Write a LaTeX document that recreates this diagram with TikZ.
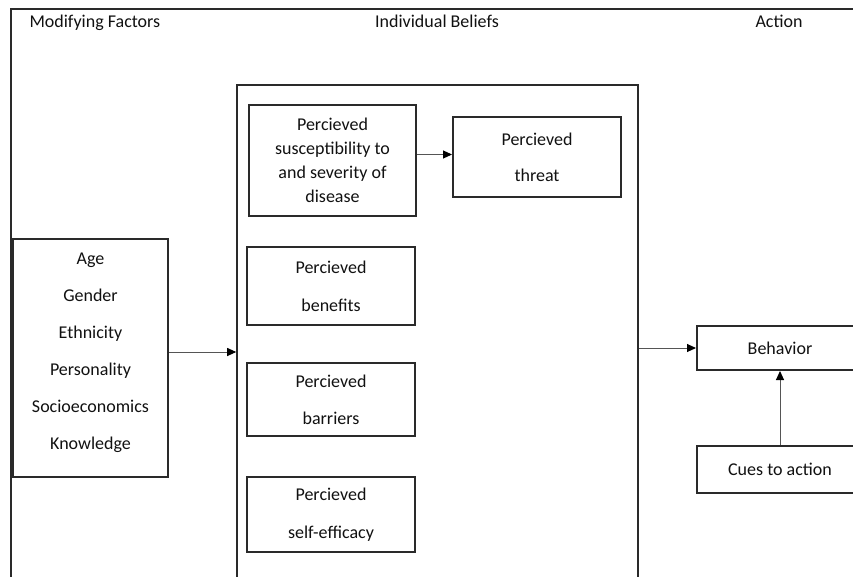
\documentclass[tikz,border=0pt]{standalone}
\usepackage{fontspec}
\setmainfont{Carlito}
\usetikzlibrary{arrows.meta}
\definecolor{txt}{HTML}{111111}
\definecolor{ln}{HTML}{2a2a2a}
\definecolor{arrln}{HTML}{555555}
\begin{document}
\begin{tikzpicture}[x=1pt,y=-1pt,
  every node/.style={text=txt,font=\fontsize{18}{24}\selectfont},
  boxst/.style={draw=ln,line width=2pt,align=center,inner sep=0pt},
  bigbox/.style={draw=ln,line width=1.6pt,inner sep=0pt},
  arr/.style={draw=arrln,line width=1pt,-{Triangle[length=9pt,width=8pt,color=black]}},
  head/.style={anchor=base}]
\useasboundingbox (0,0) rectangle (853,576);
\clip (0,0) rectangle (853,576);
\fill[white] (0,0) rectangle (853,576);
% outer frame (top and left visible)
\draw[ln,line width=2pt] (11,600) -- (11,9) -- (870,9);
% headers
\node[head,anchor=base west] (h1) at (26,27) {Modifying Factors};
\node[head] (h2) at (437,27) {Individual Beliefs};
\node[head] (h3) at (779,27) {Action};
% big box
\node[bigbox,minimum width=401pt,minimum height=515pt] (beliefs) at (437.5,342.5) {};
% inner boxes
\node[boxst,minimum width=167pt,minimum height=111pt] (sus) at (332.5,160.5)
  {Percieved\\susceptibility to\\and severity of\\disease};
\node[boxst,minimum width=168pt,minimum height=80pt,font=\fontsize{18}{36}\selectfont] (threat) at (537,157)
  {Percieved\\threat};
\node[boxst,minimum width=168pt,minimum height=78pt,font=\fontsize{18}{38}\selectfont] (ben) at (331,286)
  {Percieved\\benefits};
\node[boxst,minimum width=168pt,minimum height=73pt,font=\fontsize{18}{37}\selectfont] (bar) at (331,399.5)
  {Percieved\\barriers};
\node[boxst,minimum width=168pt,minimum height=75pt,font=\fontsize{18}{38}\selectfont] (self) at (331,514.5)
  {Percieved\\self-efficacy};
% modifying factors
\node[boxst,minimum width=155pt,minimum height=238pt,font=\fontsize{18}{37}\selectfont] (mod) at (90.5,358)
  {Age\\Gender\\Ethnicity\\Personality\\Socioeconomics\\Knowledge\rule[-14pt]{0pt}{0pt}};
% action
\node[boxst,minimum width=166pt,minimum height=44pt] (beh) at (780,348) {Behavior};
\node[boxst,minimum width=166pt,minimum height=47pt] (cues) at (780,469.5) {Cues to action};
% arrows
\draw[arr] ([yshift=6pt]sus.east) -- ([yshift=6pt]sus.east -| threat.west);
\draw[arr] ([yshift=6pt]mod.east) -- ([yshift=6pt]mod.east -| beliefs.west);
\draw[arr] (beliefs.east |- beh.west) -- (beh.west);
\draw[arr] (cues.north) -- (beh.south);
\end{tikzpicture}
\end{document}
